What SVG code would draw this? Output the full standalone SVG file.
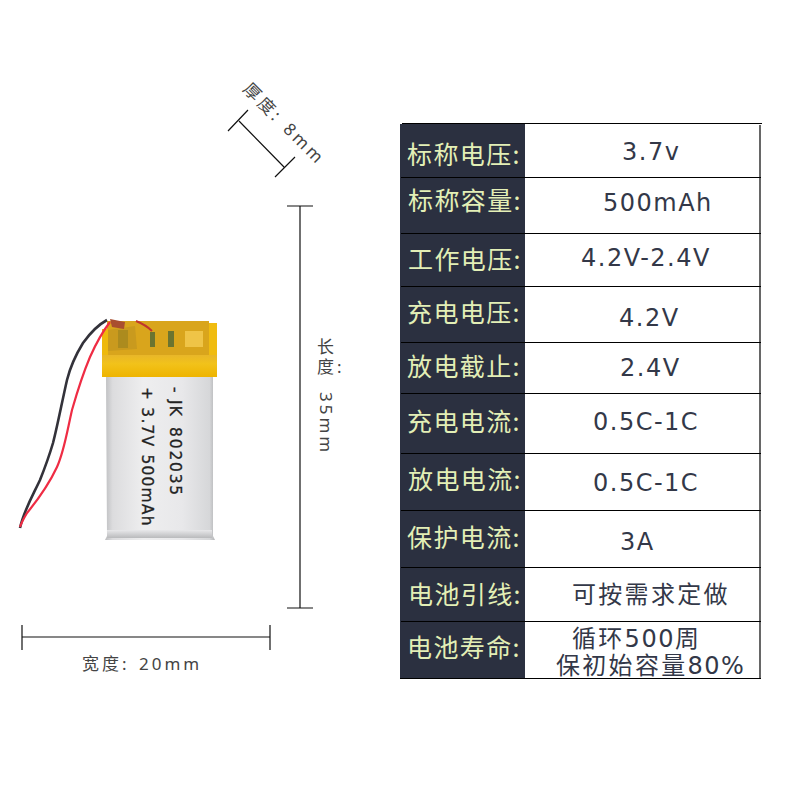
<svg xmlns="http://www.w3.org/2000/svg" width="800" height="800" viewBox="0 0 800 800">
<defs>
<linearGradient id="silver" x1="0" x2="1" y1="0" y2="0"><stop offset="0" stop-color="#bdbec0"/><stop offset="0.07" stop-color="#dcdcde"/><stop offset="0.35" stop-color="#eeeeef"/><stop offset="0.7" stop-color="#e8e8ea"/><stop offset="0.95" stop-color="#d6d7d9"/><stop offset="1" stop-color="#b4b5b7"/></linearGradient>
<linearGradient id="foot" x1="0" x2="0" y1="0" y2="1"><stop offset="0" stop-color="#e8e8ea"/><stop offset="1" stop-color="#b9babc"/></linearGradient>
<linearGradient id="tape" x1="0" x2="0" y1="0" y2="1"><stop offset="0" stop-color="#e6b42c"/><stop offset="0.45" stop-color="#f2c21a"/><stop offset="1" stop-color="#eeb400"/></linearGradient>
</defs>
<style>
.lab{font:25px "Noto Sans CJK SC","Noto Sans",sans-serif;fill:#e3efb6;letter-spacing:1.4px}
.val{font:24px "DejaVu Sans","Noto Sans CJK SC",sans-serif;fill:#333848;letter-spacing:1.5px}
.cjk{font:24px "Noto Sans CJK SC",sans-serif;fill:#333848;letter-spacing:2.3px}
.dim{font:17px "Noto Sans","Noto Sans CJK SC",sans-serif;fill:#444;letter-spacing:3px}
.rule{stroke:#111;stroke-width:1.2;fill:none}
.hl{stroke:#000;stroke-width:1.2}
.print{font:15.500px "DejaVu Sans",sans-serif;fill:#222;letter-spacing:1.200px;stroke:#222;stroke-width:.3}
</style>
<rect width="800" height="800" fill="#fff"/>
<g id="battery">
<path d="M106 376H213V536L215 540H105L107 536Z" fill="url(#silver)"/>
<rect x="107" y="530" width="105" height="8" fill="url(#foot)"/>
<rect x="102" y="353" width="115" height="24" fill="url(#tape)"/>
<rect x="107" y="321" width="102" height="34" fill="#d9a51c"/>
<rect x="102" y="329" width="6" height="26" fill="#eeb90c"/>
<rect x="209" y="323" width="8" height="32" fill="#f0bc10"/>
<path d="M108 351 L108 330 L135 326 L137 349Z" fill="#c99a1e"/>
<path d="M118 330h10v18h-10z" fill="#8a7a20" opacity=".45"/>
<path d="M150 332h5v15h-5zM168 331h6v16h-6z" fill="#6b7430"/>
<path d="M185 331h18v16h-18z" fill="#efc447"/>
<path d="M110 319 L125 322 L124 329 L112 327Z" fill="#a94e2f"/>
<path d="M136 321 Q146 325 152 331" stroke="#c0352d" stroke-width="2" fill="none"/>
<text class="print" transform="translate(170 387) rotate(90)">- JK<tspan dx="10" letter-spacing="1.800">802035</tspan></text>
<text class="print" transform="translate(142 387) rotate(90)">+ 3.7V<tspan dx="7">500mAh</tspan></text>
<path d="M107 320 C96 326 88 336 83 343 C75 356 69 372 67 380 C62 402 57 428 53 443 C48 460 44 470 40 480 C33 495 24 510 20 528" fill="none" stroke="#33323a" stroke-width="2.6"/>
<path d="M110 322 C100 335 94 348 90 357 C82 376 76 396 72 410 C67 432 64 452 57 467 C50 482 36 502 27 513 C24 518 21 524 20 527" fill="none" stroke="#ef2c44" stroke-width="2.2"/>
</g>
<g id="dimensions">
<path class="rule" d="M239 121L284 167M228 131L248 110M275 177L295 157"/>
<text class="dim" transform="translate(242 90) rotate(45)">厚度: <tspan dx="2">8mm</tspan></text>
<path class="rule" d="M300 206V608M287 206H313M287 608H313"/>
<text class="dim" x="317" y="353">长</text>
<text class="dim" x="317" y="373">度:</text>
<text class="dim" transform="translate(320 392) rotate(90)">35mm</text>
<path class="rule" d="M22 637H270M22 625V650M270 625V650"/>
<text class="dim" x="82" y="670">宽度: <tspan dx="2">20mm</tspan></text>
</g>
<g id="table">
<rect x="400" y="124" width="125" height="555" fill="#2b3040"/>
<g class="hl">
<path d="M402 123.500H762M401 177.500H761M401 233.500H761M401 286.500H761M401 342.500H761M401 393.500H761M401 453.500H761M401 510.500H761M401 567.500H761M401 621.500H761M400 678.500H761"/>
<path d="M760 125V679"/>
</g>
<text class="lab" x="407" y="164">标称电压:</text>
<text class="lab" x="408" y="210">标称容量:</text>
<text class="lab" x="408" y="269">工作电压:</text>
<text class="lab" x="407" y="322">充电电压:</text>
<text class="lab" x="407" y="376">放电截止:</text>
<text class="lab" x="407" y="431">充电电流:</text>
<text class="lab" x="408" y="489">放电电流:</text>
<text class="lab" x="407" y="547">保护电流:</text>
<text class="lab" x="408" y="604">电池引线:</text>
<text class="lab" x="407" y="657">电池寿命:</text>
<text class="val" x="622" y="160">3.7v</text>
<text class="val" x="603" y="211">500mAh</text>
<text class="val" x="581" y="266">4.2V-2.4V</text>
<text class="val" x="619" y="326">4.2V</text>
<text class="val" x="620" y="376">2.4V</text>
<text class="val" x="593" y="430">0.5C-1C</text>
<text class="val" x="593" y="491">0.5C-1C</text>
<text class="val" x="620" y="550">3A</text>
<text class="cjk" x="572" y="603">可按需求定做</text>
<text class="cjk" x="572" y="647">循环<tspan class="val">500</tspan>周</text>
<text class="cjk" x="556" y="674">保初始容量<tspan class="val">80%</tspan></text>
</g>
</svg>
